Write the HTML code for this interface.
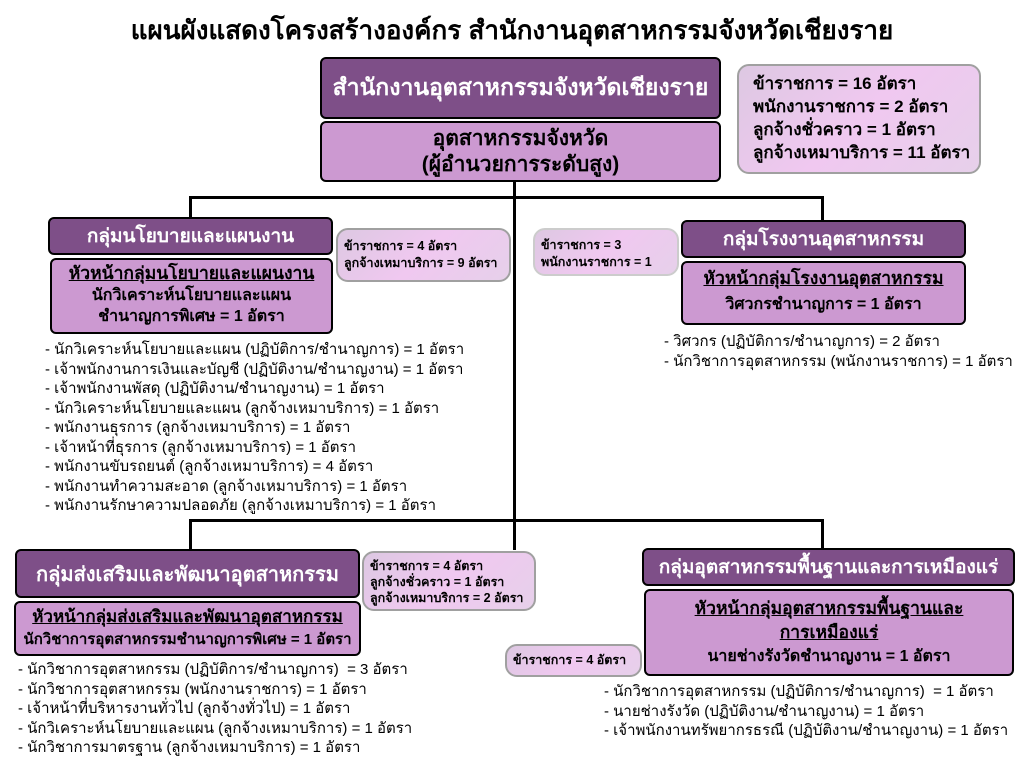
<!DOCTYPE html>
<html><head><meta charset="utf-8"><style>
body{margin:0;width:1024px;height:768px;background:#fff;position:relative;overflow:hidden;font-family:"Liberation Sans","DejaVu Sans",sans-serif;}
.a{position:absolute;box-sizing:border-box;}
.d{background:#7e4f88;color:#fff;border:2.5px solid #000;border-radius:6px;font-weight:bold;display:flex;align-items:center;justify-content:center;text-align:center;white-space:nowrap;}
.l{background:#cc99d1;color:#000;border:2.5px solid #000;border-radius:6px;font-weight:bold;text-align:center;white-space:nowrap;}
.s{background:linear-gradient(135deg,#ddc8e2,#f0c8f0,#e6d0ea);border:2.5px solid #a0a0a0;border-radius:12px;font-weight:bold;color:#000;white-space:nowrap;}
.ln{position:absolute;background:#000;}
.list{position:absolute;font-size:15px;line-height:19.5px;color:#000;white-space:nowrap;}
u{text-decoration:underline;}
</style></head><body>
<div class="a" style="left:0;top:10px;width:1024px;text-align:center;font-size:26px;font-weight:bold;">แผนผังแสดงโครงสร้างองค์กร สำนักงานอุตสาหกรรมจังหวัดเชียงราย</div>

<div class="ln" style="left:513px;top:180px;width:3px;height:370px"></div>
<div class="ln" style="left:189px;top:196px;width:635px;height:3px"></div>
<div class="ln" style="left:189px;top:196px;width:3px;height:22px"></div>
<div class="ln" style="left:821px;top:196px;width:3px;height:25px"></div>
<div class="ln" style="left:189px;top:519px;width:635px;height:3px"></div>
<div class="ln" style="left:189px;top:519px;width:3px;height:30px"></div>
<div class="ln" style="left:821px;top:519px;width:3px;height:30px"></div>

<div class="a d" style="left:320px;top:57px;width:401px;height:62px;font-size:23px;">สำนักงานอุตสาหกรรมจังหวัดเชียงราย</div>
<div class="a l" style="left:320px;top:121px;width:401px;height:61px;font-size:21px;line-height:26px;padding-top:3px;">อุตสาหกรรมจังหวัด<br>(ผู้อำนวยการระดับสูง)</div>
<div class="a s" style="left:737px;top:64px;width:244px;height:110px;font-size:17px;line-height:23px;padding:6px 0 0 14px;">ข้าราชการ = 16 อัตรา<br>พนักงานราชการ = 2 อัตรา<br>ลูกจ้างชั่วคราว = 1 อัตรา<br>ลูกจ้างเหมาบริการ = 11 อัตรา</div>

<div class="a d" style="left:48px;top:217px;width:285px;height:38px;font-size:19px;">กลุ่มนโยบายและแผนงาน</div>
<div class="a l" style="left:50px;top:258px;width:283px;height:76px;font-size:16px;line-height:21px;padding-top:3px;"><span style="font-size:17.5px"><u>หัวหน้ากลุ่มนโยบายและแผนงาน</u></span><br>นักวิเคราะห์นโยบายและแผน<br>ชำนาญการพิเศษ = 1 อัตรา</div>
<div class="a s" style="left:336px;top:228px;width:175px;height:54px;font-size:12.5px;line-height:17px;padding:8px 0 0 6px;">ข้าราชการ = 4 อัตรา<br>ลูกจ้างเหมาบริการ = 9 อัตรา</div>
<div class="a s" style="left:533px;top:228px;width:146px;height:48px;font-size:12.5px;line-height:17px;padding:7px 0 0 6px;border-color:#ccc;">ข้าราชการ = 3<br>พนักงานราชการ = 1</div>
<div class="list" style="left:45px;top:340px;">- นักวิเคราะห์นโยบายและแผน (ปฏิบัติการ/ชำนาญการ) = 1 อัตรา<br>- เจ้าพนักงานการเงินและบัญชี (ปฏิบัติงาน/ชำนาญงาน) = 1 อัตรา<br>- เจ้าพนักงานพัสดุ (ปฏิบัติงาน/ชำนาญงาน) = 1 อัตรา<br>- นักวิเคราะห์นโยบายและแผน (ลูกจ้างเหมาบริการ) = 1 อัตรา<br>- พนักงานธุรการ (ลูกจ้างเหมาบริการ) = 1 อัตรา<br>- เจ้าหน้าที่ธุรการ (ลูกจ้างเหมาบริการ) = 1 อัตรา<br>- พนักงานขับรถยนต์ (ลูกจ้างเหมาบริการ) = 4 อัตรา<br>- พนักงานทำความสะอาด (ลูกจ้างเหมาบริการ) = 1 อัตรา<br>- พนักงานรักษาความปลอดภัย (ลูกจ้างเหมาบริการ) = 1 อัตรา</div>

<div class="a d" style="left:681px;top:220px;width:285px;height:38px;font-size:19px;">กลุ่มโรงงานอุตสาหกรรม</div>
<div class="a l" style="left:681px;top:261px;width:285px;height:64px;font-size:16px;line-height:25px;padding-top:3px;"><span style="font-size:17.5px"><u>หัวหน้ากลุ่มโรงงานอุตสาหกรรม</u></span><br>วิศวกรชำนาญการ = 1 อัตรา</div>
<div class="list" style="left:664px;top:332px;">- วิศวกร (ปฏิบัติการ/ชำนาญการ) = 2 อัตรา<br>- นักวิชาการอุตสาหกรรม (พนักงานราชการ) = 1 อัตรา</div>

<div class="a d" style="left:15px;top:549px;width:345px;height:49px;font-size:20px;">กลุ่มส่งเสริมและพัฒนาอุตสาหกรรม</div>
<div class="a l" style="left:14px;top:601px;width:347px;height:55px;font-size:15px;line-height:22px;padding-top:3px;"><span style="font-size:17px"><u>หัวหน้ากลุ่มส่งเสริมและพัฒนาอุตสาหกรรม</u></span><br>นักวิชาการอุตสาหกรรมชำนาญการพิเศษ = 1 อัตรา</div>
<div class="a s" style="left:362px;top:551px;width:174px;height:60px;font-size:12.5px;line-height:16px;padding:5px 0 0 6px;">ข้าราชการ = 4 อัตรา<br>ลูกจ้างชั่วคราว = 1 อัตรา<br>ลูกจ้างเหมาบริการ = 2 อัตรา</div>
<div class="list" style="left:18px;top:660px;">- นักวิชาการอุตสาหกรรม (ปฏิบัติการ/ชำนาญการ)&nbsp; = 3 อัตรา<br>- นักวิชาการอุตสาหกรรม (พนักงานราชการ) = 1 อัตรา<br>- เจ้าหน้าที่บริหารงานทั่วไป (ลูกจ้างทั่วไป) = 1 อัตรา<br>- นักวิเคราะห์นโยบายและแผน (ลูกจ้างเหมาบริการ) = 1 อัตรา<br>- นักวิชาการมาตรฐาน (ลูกจ้างเหมาบริการ) = 1 อัตรา</div>

<div class="a d" style="left:642px;top:548px;width:373px;height:38px;font-size:19px;">กลุ่มอุตสาหกรรมพื้นฐานและการเหมืองแร่</div>
<div class="a l" style="left:644px;top:589px;width:370px;height:87px;font-size:16px;line-height:23px;padding-top:6px;"><span style="font-size:17.5px"><u>หัวหน้ากลุ่มอุตสาหกรรมพื้นฐานและ</u><br><u>การเหมืองแร่</u></span><br>นายช่างรังวัดชำนาญงาน = 1 อัตรา</div>
<div class="a s" style="left:505px;top:644px;width:137px;height:33px;font-size:12.5px;line-height:17px;padding:6px 0 0 6px;">ข้าราชการ = 4 อัตรา</div>
<div class="list" style="left:604px;top:682px;">- นักวิชาการอุตสาหกรรม (ปฏิบัติการ/ชำนาญการ)&nbsp; = 1 อัตรา<br>- นายช่างรังวัด (ปฏิบัติงาน/ชำนาญงาน) = 1 อัตรา<br>- เจ้าพนักงานทรัพยากรธรณี (ปฏิบัติงาน/ชำนาญงาน) = 1 อัตรา</div>
</body></html>
